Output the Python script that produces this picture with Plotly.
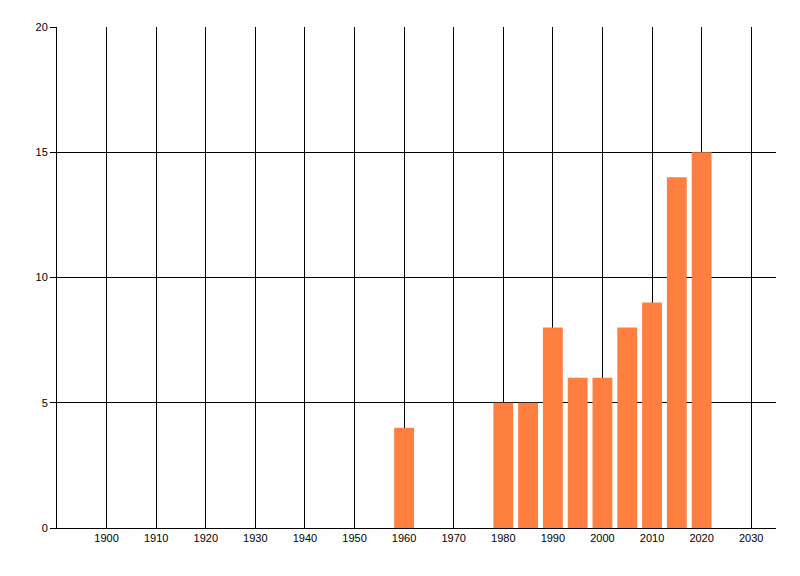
import plotly.graph_objects as go

years = [1960, 1980, 1985, 1990, 1995, 2000, 2005, 2010, 2015, 2020]
counts = [4, 5, 5, 8, 6, 6, 8, 9, 14, 15]

x_ticks = list(range(1900, 2031, 10))
y_ticks = [0, 5, 10, 15, 20]

fig = go.Figure()
fig.add_trace(go.Bar(x=years, y=counts, width=4,
                     marker=dict(color='#FF7F40', line=dict(width=0))))

# page body adds 8px offset, margins compensate for it
fig.update_layout(
    width=800, height=576,
    margin=dict(l=49, r=32, t=19, b=56),
    plot_bgcolor='white', paper_bgcolor='white',
    showlegend=False,
    font=dict(family='Liberation Sans, Arial', size=11, color='black'),
    xaxis=dict(range=[1890, 2035], tickvals=x_ticks, showgrid=True,
               gridcolor='black', gridwidth=1, showline=True, linecolor='black',
               linewidth=1, zeroline=False, ticks='', ticklen=0),
    yaxis=dict(range=[0, 20], tickvals=y_ticks, showgrid=True,
               gridcolor='black', gridwidth=1, showline=True, linecolor='black',
               linewidth=1, zeroline=False, ticks='outside', ticklen=6,
               tickcolor='black'),
)

fig.write_html("out.html")
